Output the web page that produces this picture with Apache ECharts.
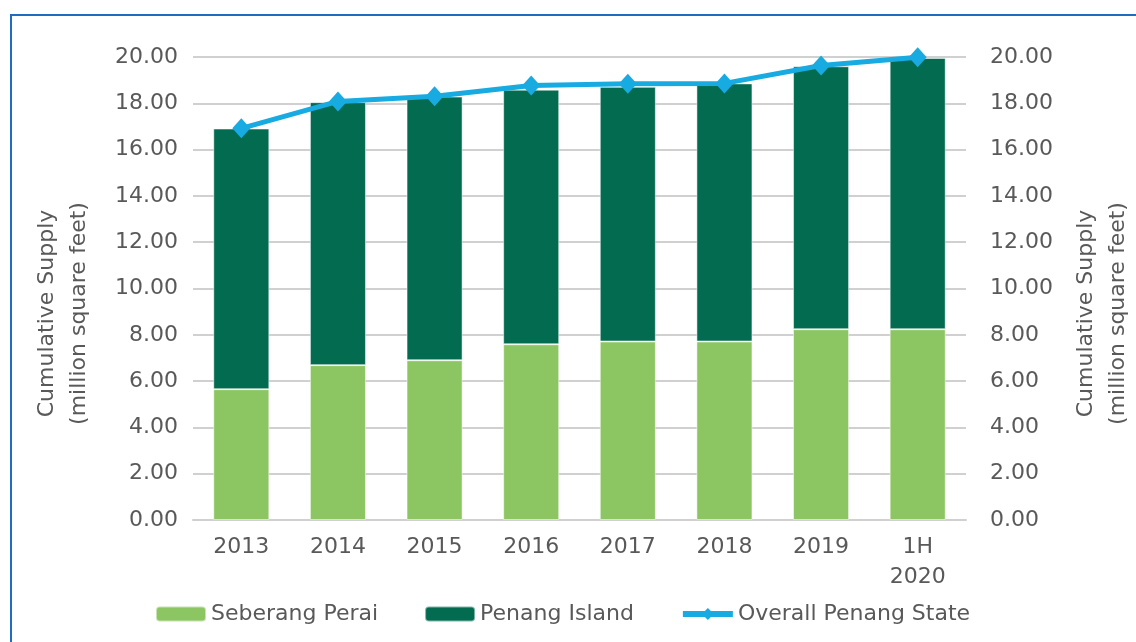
<!DOCTYPE html>
<html>
<head>
<meta charset="utf-8">
<script src="https://cdn.jsdelivr.net/npm/echarts@6/dist/echarts.min.js"></script>
<style>
  html, body { margin: 0; padding: 0; background: #fff; }
  #frame {
    position: absolute; left: 10px; top: 14px; width: 1200px; height: 700px;
    border-left: 2px solid #1f6cc0; border-top: 2px solid #1f6cc0;
  }
  #chart { position: absolute; left: 0; top: 0; width: 1136px; height: 642px; }
</style>
</head>
<body>
<div id="frame"></div>
<div id="chart"></div>
<script>
// data
const years = ['2013', '2014', '2015', '2016', '2017', '2018', '2019', '1H\n2020']
const seberangPerai = [5.65, 6.69, 6.90, 7.59, 7.71, 7.71, 8.24, 8.24]
const penangIsland = [11.26, 11.36, 11.39, 11.00, 11.00, 11.15, 11.36, 11.72]
const overallState = [16.92, 18.08, 18.30, 18.77, 18.84, 18.86, 19.63, 19.99]

const FONT = '"DejaVu Sans", sans-serif'
const TXT = '#595959'

const chart = echarts.init(document.getElementById('chart'))

const valueAxis = (pos) => ({
  type: 'value',
  position: pos,
  min: 0,
  max: 20,
  interval: 2,
  name: 'Cumulative Supply\n(million square feet)',
  nameLocation: 'middle',
  nameRotate: 90,
  nameGap: pos === 'left' ? 98 : 104,
  nameTextStyle: {
    color: TXT, fontFamily: FONT, fontSize: 22, lineHeight: 32,
    padding: [0, 50, 0, 0]
  },
  axisLine: { show: false },
  axisTick: { show: false },
  axisLabel: {
    color: TXT, fontFamily: FONT, fontSize: 22,
    margin: pos === 'left' ? 15 : 24,
    formatter: v => v.toFixed(2)
  },
  splitLine: { show: pos === 'left', lineStyle: { color: '#d0d0d0', width: 2 } }
})

const option = {
  animation: false,
  grid: { left: 193, right: 170, top: 57, bottom: 122, outerBoundsMode: 'none' },
  legend: {
    bottom: 12,
    left: 150,
    itemWidth: 50,
    itemHeight: 15,
    itemGap: 46,
    textStyle: { color: TXT, fontFamily: FONT, fontSize: 22 },
    data: [
      'Seberang Perai',
      'Penang Island',
      { name: 'Overall Penang State', lineStyle: { width: 6 } }
    ]
  },
  xAxis: {
    type: 'category',
    data: years,
    axisLine: { lineStyle: { color: '#d0d0d0', width: 2 } },
    axisTick: { show: false },
    axisLabel: { color: TXT, fontFamily: FONT, fontSize: 22, lineHeight: 30, margin: 12 }
  },
  yAxis: [valueAxis('left'), valueAxis('right')],
  series: [
    {
      name: 'Seberang Perai',
      type: 'bar',
      stack: 'supply',
      barWidth: '58%',
      data: seberangPerai,
      itemStyle: { color: '#8cc662', borderColor: 'rgba(255,255,255,0.5)', borderWidth: 1 }
    },
    {
      name: 'Penang Island',
      type: 'bar',
      stack: 'supply',
      data: penangIsland,
      itemStyle: { color: '#036c50', borderColor: 'rgba(255,255,255,0.5)', borderWidth: 1 }
    },
    {
      name: 'Overall Penang State',
      type: 'line',
      yAxisIndex: 0,
      data: overallState,
      symbol: 'diamond',
      symbolSize: [18, 20],
      lineStyle: { color: '#17abe2', width: 5 },
      itemStyle: { color: '#17abe2' },
      z: 5
    }
  ]
}

chart.setOption(option)
</script>
</body>
</html>
